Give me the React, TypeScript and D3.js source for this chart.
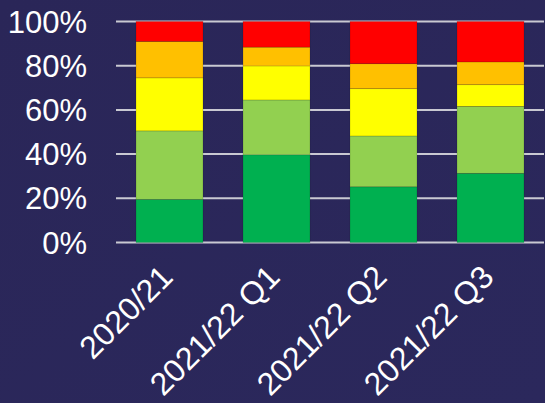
import React from "react";
import * as d3 from "d3";

const categories = ["2020/21", "2021/22 Q1", "2021/22 Q2", "2021/22 Q3"];
const seriesNames = ["Green", "Light green", "Yellow", "Amber", "Red"];
const seriesColors = ["#00B050", "#92D050", "#FFFF00", "#FFC000", "#FF0000"];
const greenVals = [19.5, 39.7, 25.2, 31.3];
const lightGreenVals = [31.0, 24.8, 23.0, 30.3];
const yellowVals = [24.0, 15.4, 21.4, 9.8];
const amberVals = [16.5, 8.5, 11.3, 10.3];
const redVals = [9.0, 11.6, 19.1, 18.3];
const yTicks = [0, 20, 40, 60, 80, 100];

const W = 545;
const H = 403;

export default function App() {
  const series = [greenVals, lightGreenVals, yellowVals, amberVals, redVals];
  const rows = categories.map((c, i) => {
    const total = series.reduce((s, arr) => s + arr[i], 0);
    const r: any = { cat: c };
    seriesNames.forEach((n, k) => (r[n] = (series[k][i] / total) * 100));
    return r;
  });
  const stacked = d3.stack<any>().keys(seriesNames)(rows);

  const x = d3
    .scaleBand<string>()
    .domain(categories)
    .range([116, 544])
    .paddingInner(0.374)
    .paddingOuter(0.187);
  const y = d3.scaleLinear().domain([0, 100]).range([242.5, 21.5]);

  return (
    <svg
      width={W}
      height={H}
      style={{ position: "fixed", left: 0, top: 0, display: "block" }}
      fontFamily="'Liberation Sans', Arial, sans-serif"
    >
      <defs>
        <linearGradient id="bg" x1="0" y1="0" x2="1" y2="1">
          <stop offset="0" stopColor="#2A2658" />
          <stop offset="1" stopColor="#2B285C" />
        </linearGradient>
      </defs>
      <rect x={0} y={0} width={W} height={H} fill="url(#bg)" />
      {yTicks.map((t) => (
        <g key={t}>
          <line
            x1={116}
            x2={544}
            y1={y(t)}
            y2={y(t)}
            stroke="#C9C9D2"
            strokeWidth={2}
          />
          <text
            x={87}
            y={y(t)}
            dy="0.36em"
            textAnchor="end"
            fill="#FFFFFF"
            fontSize={31}
          >
            {t}%
          </text>
        </g>
      ))}
      {stacked.map((s, k) => (
        <g key={s.key} fill={seriesColors[k]}>
          {s.map((d, i) => (
            <rect
              key={i}
              x={x(categories[i])}
              width={x.bandwidth()}
              y={y(d[1])}
              height={y(d[0]) - y(d[1])}
              stroke="rgba(0,0,0,0.18)"
              strokeWidth={0.75}
            />
          ))}
        </g>
      ))}
      {categories.map((c) => {
        const cx = (x(c) as number) + x.bandwidth() / 2;
        return (
          <text
            key={c}
            transform={`translate(${cx + 5},${279}) rotate(-45)`}
            textAnchor="end"
            fill="#FFFFFF"
            fontSize={32}
          >
            {c}
          </text>
        );
      })}
    </svg>
  );
}
